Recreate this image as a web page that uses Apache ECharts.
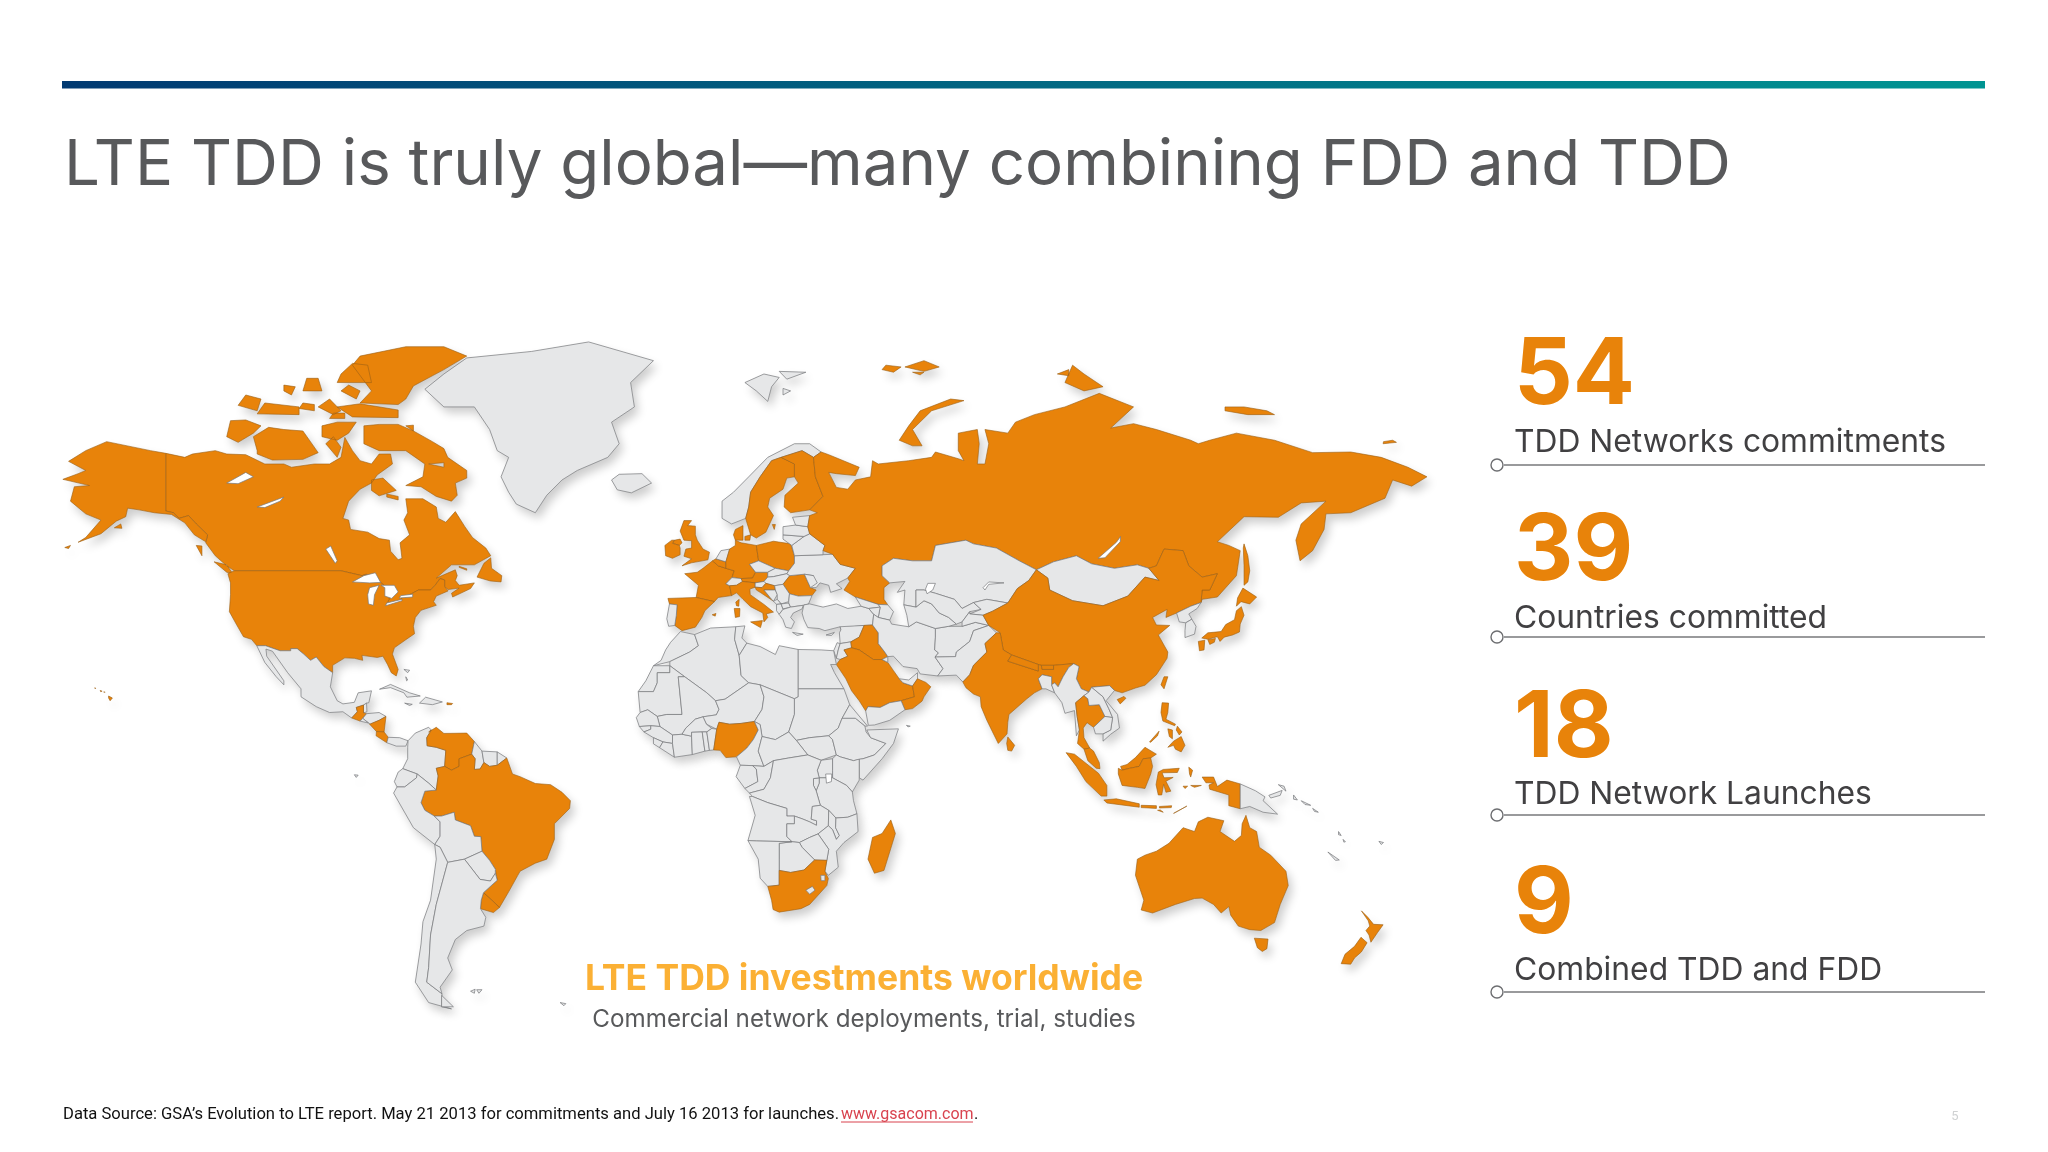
<!DOCTYPE html>
<html><head><meta charset="utf-8">
<style>html,body{margin:0;padding:0;background:#fff}#c{width:2048px;height:1152px}</style>
<script src="https://cdn.jsdelivr.net/npm/echarts@6/dist/echarts.min.js"></script>
</head><body><div id="c"></div>
<script>
const titleText = 'LTE TDD is truly global—many combining FDD and TDD';
const statValues = ['54','39','18','9'];
const statLabels = ['TDD Networks commitments','Countries committed','TDD Network Launches','Combined TDD and FDD'];
const captionTitle = 'LTE TDD investments worldwide';
const captionSub = 'Commercial network deployments, trial, studies';
const sourceText = 'Data Source: GSA’s Evolution to LTE report. May 21 2013 for commitments and July 16 2013 for launches.';
const sourceLink = 'www.gsacom.com';

// countries highlighted as committed
const committed = ['Canada','USA','Guatemala','Nicaragua','Costa Rica','Puerto Rico','Venezuela','Brazil','Uruguay','UK','Ireland','Spain','France','Germany','Belgium','Italy','Sweden','Finland','Denmark','Poland','Austria','Croatia','Romania','Russia','Saudi Arabia','Iraq','Oman','India','Nepal','Bhutan','China','Sri Lanka','Thailand','Malaysia','Indonesia','Philippines','Japan','Australia','New Zealand','Madagascar','South Africa','Nigeria'];
const lakes = ['L1','L2','L3','L4','L5','L6','L7','L8','L9','L10','L11','L12'];

// outlines: lon lat pairs, rings separated by ;
const outlines = {
Greenland:'-73 78.2,-68 76,-60 76,-56 73,-54 70,-51 69,-53 66,-51 63.5,-49 61.5,-44 60,-41 63,-37 65.5,-33 67,-25 69,-22 71,-24 74,-18 76,-19 79,-13 81.5,-30 83.5,-45 82.5,-62 81.8,-68 80',
Iceland:'-24 65.5,-22 66.4,-16 66.5,-13.5 65,-18.8 63.4,-22.5 63.9',
Svalbard:'11 79,16 80,20 79.6,18 78.5,17 76.7,14 78;20 80.3,27 80.2,22 79.4;21 78.3,23 78,21 77.5',
Canada:'-141 69.6,-136 69,-134 69.5,-128 70,-125 69.5,-120 69.4,-115 68,-110 68,-108 67.5,-102 68,-98 68,-95 69,-94 71.9,-92 70,-90 68.5,-87 68,-85 69.5,-82 69.5,-81.5 68,-85.5 66.3,-87 65,-90 64,-93 62,-94.5 59,-93 58.7,-92.5 57,-88 56.5,-85 55.3,-82.3 55,-82 52.9,-80 51.2,-79 51.5,-79.5 54.5,-77 56,-78.5 58.7,-77.5 60,-78 62.4,-73.5 62.4,-70 61,-69.5 59,-67.5 58.3,-65 60.2,-62.5 57.5,-60.5 55.5,-57 53.5,-55.7 52,-60 50.2,-66 50.2,-70 47.5,-65 49.2,-64.5 48,-65 47,-64 46,-60 46.5,-61 45.3,-65.7 43.5,-66 44.3,-64 45.4,-66.9 45.1,-67.8 45.7,-67.8 47.1,-69 47.4,-70.3 46,-71.5 45,-74.7 45,-76.5 44.2,-79 43.4,-79.2 42.9,-83 42,-82.4 43,-82.5 45.3,-84.5 46.5,-88.4 48.3,-89.5 48,-95 49,-123 49,-125 50,-128 52,-130.5 54.5,-130 56,-133 58,-135 59.5,-137.5 59,-139 60,-141 60.3;-80 73.7,-76 72.8,-71 71.3,-68 70.3,-67 69,-62 67,-62 65.8,-65 65,-64.5 63,-66 62,-70 62.8,-74 64.4,-78 64.6,-73.5 66,-73 68,-78 70,-85 70,-89 71,-89 73.5,-85 73.7;-117 69.5,-113 68.6,-105 68.7,-101 69.7,-105 72.8,-110 73,-114 73.3,-118 72,-117 70;-125 72,-122 71.2,-118 72.5,-116 73.5,-120 74.3,-124 74.2;-90 76.5,-80 76.3,-78 77,-76 78.6,-68 80.5,-62 82,-68 83,-78 83,-90 82,-92 81,-87 78;-92 74.7,-80 74.6,-80 75.6,-90 76.4,-96 76;-87 65.5,-84 65.8,-80.5 63.8,-85 62.9,-87 63.8;-117 75.1,-106 75,-106 76,-115 76.5;-96 79,-87 79,-88 81,-92 81.2,-95 80;-100 72,-96 71.5,-93 72.5,-91 74,-96 74,-100 73.5;-122 76.2,-117 75.5,-116 77,-120 77.5;-105 78,-100 78,-101 79.5,-104 79.5;-59.3 47.7,-55.8 46.9,-53 46.7,-52.8 48,-55.5 49.5,-55.7 51.6,-57.5 50.5;-128.3 50.8,-125 48.7,-123.4 48.4,-125 50.2;-133 54,-131.5 53.9,-131.5 52;-99 71,-96 69,-95 70.5,-97 72;-64 49.9,-62 49.4,-62 49.1,-64 49.7;-101 76,-97 75,-95 75.5,-98 77;-106 75.8,-102 75.5,-102 76.3,-105 76.5;-95 78,-91 77,-90 78,-93 78.7;-110 78,-108 77.5,-107 78.5,-110 78.7;-78 73.5,-76 72.8,-76 73.6;-83 63.2,-80 62.8,-80 62.2,-83 62.7;-72 68,-68 67.5,-68 68.2;-98 74.5,-94 74.5,-94 75.2,-97 75.2',
USA:'-124.7 48.4,-123 49,-95 49,-89.5 48,-88.4 48.3,-84.5 46.5,-82.5 45.3,-82.4 43,-83 42,-79.2 42.9,-79 43.4,-76.5 44.2,-74.7 45,-71.5 45,-70.3 46,-69 47.4,-67.8 47.1,-67.8 45.7,-66.9 44.8,-70 43.7,-70.7 42.5,-70 41.7,-74 40.6,-75.5 39,-76 37,-75.7 35.3,-78 33.9,-81 32,-81.5 30.5,-80 26.8,-80.5 25.2,-81.8 26,-82.8 28,-84 30,-85.5 29.7,-89.5 30.2,-89.3 29,-91.5 29.5,-94 29.6,-97.2 27.8,-97.2 26,-99.5 27.5,-101.5 29.8,-103 29,-104.8 30.5,-106.5 31.8,-108.2 31.8,-108.2 31.3,-111 31.3,-114.8 32.5,-117.1 32.5,-118.5 34,-120.6 34.6,-122.5 37.5,-124.3 40.3,-124 44,-124 46.5;-141 69.6,-145 70,-156.5 71.3,-162 70,-166.5 68.4,-162 67,-164 66.5,-168 65.6,-161 64.6,-165 64.4,-166 62,-162 59.8,-158 58.7,-162 55.5,-164 54.6,-158 56.2,-154 58.5,-151.5 59.3,-151 60.8,-148 60.5,-144 60,-139.5 59.7,-136 58.2,-133.5 56,-130.5 54.7,-130 56,-133 58,-135 59.5,-137.5 59,-139 60,-141 60.3;-154.5 57.3,-152.5 57.2,-152.8 58;-156 20.2,-155 19.7,-155.6 19,-156 19.7;-157.3 21.2,-156.9 21.15,-157.1 21;-158.2 21.6,-157.7 21.4,-158.1 21.3;-159.7 22.2,-159.3 22.1,-159.5 21.9;-167.5 53.6,-166 54,-166.5 53.4',
Mexico:'-117.1 32.5,-114.8 32.5,-111 31.3,-108.2 31.3,-108.2 31.8,-106.5 31.8,-104.8 30.5,-103 29,-101.5 29.8,-99.5 27.5,-97.2 26,-97.8 22.5,-96 19,-94.5 18.2,-91.5 18.6,-90.5 21,-87 21.5,-87.7 18.5,-88.3 18.4,-89.1 17.9,-91 17.3,-90.7 16.2,-92.2 14.6,-94.5 16.2,-98 16,-101.5 17.5,-105.5 20,-105.5 22,-109 26,-113 31.2,-114.7 31.7,-114.5 30,-110 24,-110 23,-112 25,-115 28.5',
Belize:'-88.3 18.4,-88.2 16.2,-89.1 15.9,-89.1 17.9',
Guatemala:'-92.2 14.6,-90.7 16.2,-91 17.3,-89.1 17.9,-89.1 15.9,-88.3 15.7,-89.3 14.5,-90 13.8',
Honduras:'-89.3 14.5,-88.3 15.7,-85 16,-83.2 15,-85 14,-87.3 13',
'El Salvador':'-90 13.8,-89.3 14.5,-87.8 13.3',
Nicaragua:'-87.5 13,-85 14,-83.2 15,-83.7 11,-85.7 11.1',
'Costa Rica':'-85.7 11.1,-83.7 11,-82.6 9.6,-83 8.2,-85.8 10',
Panama:'-83 8.2,-82.6 9.6,-79.6 9.5,-77.4 8.7,-78 7.3,-80.5 7.3',
Cuba:'-84.9 21.9,-82 23.1,-77 21,-74.2 20.2,-77.7 19.9,-78.5 21,-82 22.3',
Hispaniola:'-74.4 18.4,-72.8 19.9,-68.4 18.7,-71 18',
'Puerto Rico':'-67.2 18.5,-65.7 18.3,-66 18,-67.2 18',
Jamaica:'-78.3 18.4,-76.3 18.1,-77 17.8',
Bahamas:'-78.5 26.8,-77 26.6,-77.5 26;-78 25,-77.5 24.2,-77.8 24',
Colombia:'-77.4 8.7,-75.5 10.7,-72 12.2,-71.3 11.5,-72.5 9.5,-72.4 7.4,-70 7,-67.5 6.2,-67.8 2,-70 1.5,-69.5 -0.5,-70 -4.2,-72 -2.4,-75 0,-78.8 1.4,-77.5 4,-77.5 7',
Venezuela:'-71.3 11.5,-72.5 9.5,-72.4 7.4,-70 7,-67.5 6.2,-67.8 2,-66 1,-64 2,-64 4,-60.7 5.2,-60 8.5,-62 10.7,-68 10.6,-70 12.2,-72 11',
Guyana:'-60.7 5.2,-59.8 4,-60 1.2,-58.5 1.3,-57.5 3,-58 6,-60 8.5',
Suriname:'-58 6,-57.5 3,-56 2,-54 2.3,-54 5.8',
'French Guiana':'-54 5.8,-54 2.3,-51.5 4.2',
Brazil:'-50 0,-51.5 4.2,-54 2.3,-56 2,-57.5 3,-58.5 1.3,-60 1.2,-59.8 4,-60.7 5.2,-64 4,-64 2,-66 1,-67.8 2,-70 1.5,-69.5 -0.5,-70 -4.2,-73 -4.5,-74 -7.5,-73 -9.5,-70.5 -11,-68.6 -11,-65.3 -10,-65 -12,-61 -13.5,-60 -16.2,-58.3 -16.3,-58 -20,-56 -22.3,-54.5 -24.5,-54 -27.2,-57.6 -30.2,-53.4 -33.7,-51 -30,-48.6 -26,-48 -25,-44 -23,-41 -22,-39 -17,-39 -13,-35 -9,-34.8 -7,-37 -4.8,-40 -2.8,-44 -2.5,-48 -0.7',
Uruguay:'-57.6 -30.2,-53.4 -33.7,-55 -34.9,-58.4 -34,-58.2 -32',
Ecuador:'-78.8 1.4,-75 0,-75.2 -1,-78.3 -3.4,-80.3 -3.4,-81 -2,-80 0.5;-91.5 -0.2,-90.5 -0.3,-91 -0.9',
Peru:'-80.3 -3.4,-78.3 -3.4,-75.2 -1,-75 0,-72 -2.4,-70 -4.2,-73 -4.5,-74 -7.5,-73 -9.5,-70.5 -11,-69 -12.5,-69 -16.2,-70.4 -18.3,-76 -14,-81.2 -5',
Bolivia:'-70.5 -11,-68.6 -11,-65.3 -10,-65 -12,-61 -13.5,-60 -16.2,-58.3 -16.3,-58 -20,-62.6 -22,-67 -22.8,-69 -19,-70.4 -18.3,-69 -16.2,-69 -12.5',
Paraguay:'-58 -20,-62.6 -22,-58.5 -27,-55.8 -27.4,-54.5 -25.5,-54.5 -24.5,-56 -22.3',
Chile:'-70.4 -18.3,-69 -19,-67 -22.8,-70 -33,-71.5 -40,-72 -47,-72.5 -50,-68.5 -52.3,-68.6 -54.8,-66 -55.2,-72 -54,-75.5 -50,-74 -42,-73.5 -37,-71.5 -32,-70 -22',
Argentina:'-62.6 -22,-67 -22.8,-70 -33,-71.5 -40,-72 -47,-72.5 -50,-68.5 -52.3,-69 -51,-65.8 -47.5,-67 -45,-65 -41,-62 -39,-57.5 -38,-57 -36,-58.4 -34,-58.2 -32,-57.6 -30.2,-54 -27.2,-54.5 -25.5,-55.8 -27.4,-58.5 -27;-68.6 -52.6,-65.5 -54.8,-68.6 -54.8',
Falklands:'-61 -51.8,-59.8 -51.4,-60 -52.2;-59.4 -51.5,-58 -51.5,-58.8 -52.2;-37.5 -54,-36 -54.2,-36.5 -54.6',
Norway:'7.5 58,11.2 59,12 61,12.5 63.5,15 66,18 68.5,20.5 69,26 70,29 69,31 69.8,28 71,24 71,17 69,12 66,8 63.5,5 62,5 59',
Sweden:'11.2 59,12.5 56,14 55.4,16.5 56.5,18.5 59.5,17 61,17.5 62.5,21 64,22 65.8,24 66,24 68,20.5 69,18 68.5,15 66,12.5 63.5,12 61;18.2 57.9,19 57.9,18.7 57',
Finland:'29 69,29.5 66,31.5 62.8,28 60.5,23 60,21.3 61,21.5 63,25 65,24 66,24 68,20.5 69,26 70',
Denmark:'8.5 57,10.5 57.7,10.5 55,8.5 55,8 56;11 55.7,12.5 56,12.3 55,11 55',
UK:'-5.5 50,-3 50.6,1.3 51.2,1.7 52.7,0 53.3,-1.5 55,-2 56,-2 57.6,-4 57.7,-3 58.6,-5 58.6,-6 56.7,-5 55,-3 54.9,-3 53.5,-4.5 53.3,-5 51.9,-3 51.4;-6 55.2,-5.5 54.5,-6.2 54,-8 54.4,-7.5 55',
Ireland:'-6 52.2,-6 53.5,-6.2 54,-8 54.4,-7.5 55,-8.2 55,-10 54,-9.8 52,-8 51.5',
France:'2.5 51,4 50,6 49.5,8.2 49,7.6 47.6,6 46.3,7 45.9,7.5 43.8,4 43.4,3 42.5,-1.8 43.4,-1.2 46,-4.8 48.4,-1.5 48.7,0 49.5;8.6 42.4,9.5 43,9.4 41.5,8.8 41.6',
Belgium:'2.5 51,3.4 51.4,5.9 50.8,6 49.5,4 50',
Netherlands:'3.4 51.4,4.7 53,7 53.3,6 50.8',
Germany:'6 50.8,7 53.3,8.5 54,8.5 55,10 54.5,14 54,14.6 51,12.2 50.3,13.8 48.7,13 47.5,10 47.4,7.6 47.6,8.2 49,6 49.5',
Switzerland:'7.6 47.6,10 47.4,10.4 46.8,8.8 46,7 45.9,6 46.3',
Austria:'10 47.4,13 47.5,13.8 48.7,17 48.7,17 47.7,16 46.8,13.7 46.5,10.4 46.8',
Italy:'7 45.9,8.8 46,10.4 46.8,13.7 46.5,13.7 45.6,12.3 45.2,12.4 44,16 41.9,18.5 40.2,16.6 39.8,17 39,16 38,15.7 40,12.5 41.4,10.5 43,8.8 44.4,7.5 43.8;12.5 38,15.6 38.3,15.1 36.7;8.2 41,9.7 41,9.6 39.2,8.5 39',
Spain:'-9.2 43.2,-1.8 43.4,3 42.5,0.5 40.5,-0.3 39,-2 36.8,-5.5 36,-7.4 37.2,-7 39.5,-6.8 41.8,-8.8 42;2.4 39.6,3.4 39.9,3.2 39.3',
Portugal:'-8.8 42,-6.8 41.8,-7 39.5,-7.4 37.2,-9 37,-9.5 38.7',
Poland:'14 54,18.5 54.8,23 54.3,24 52,24 50.5,22.5 49,19 49.5,14.6 51',
Czechia:'12.2 50.3,14.6 51,19 49.5,17 48.7,13.8 48.7',
Slovakia:'17 48.7,19 49.5,22.5 49,22 48.4,18.5 47.8,17 47.7',
Hungary:'16 46.8,17 47.7,18.5 47.8,22 48.4,22.8 48,21 46.2,18.8 45.9,16.5 46.4',
Romania:'21 46.2,22.8 48,26.6 48.3,28.2 45.5,29.7 45,28.6 43.8,25 43.7,22.7 44.2',
Slovenia:'13.7 46.5,16 46.8,16.5 46.4,15.5 45.5,13.7 45.6',
Croatia:'13.7 45.6,15.5 45.5,16.5 46.4,18.8 45.9,19 45,16 45,18 43,18.5 42.6,15 44.5,14 45',
Bosnia:'16 45,19 45,19.5 44,18.5 42.6,18 43',
Serbia:'18.8 45.9,21 46.2,22.7 44.2,22.5 42.5,20.5 42,19.5 43,19.5 44,19 45',
Montenegro:'18.5 42.6,19.5 43,20.5 42,19.3 41.9',
Albania:'19.3 41.9,20.5 42,21 40.8,20 39.7,19.3 40.5',
Macedonia:'20.5 42,22.5 42.2,23 41.3,21 40.9',
Bulgaria:'22.5 42.5,22.7 44.2,25 43.7,28.6 43.8,27.7 42,26.3 41.7,23 41.3,22.5 42.2',
Greece:'21 40.8,23 41.3,26.3 41.7,26 40.9,23.7 40,23 39,24 38,23.2 36.5,21.7 36.8,21 38.5,20 39.7;23.5 35.6,26.3 35.2,24.7 34.9',
Cyprus:'32.3 35,34.5 35.6,33.7 34.9',
Ukraine:'24 50.5,24 52,31.5 52.2,34 52.3,36 50.3,40 49.5,38 47.5,35 46.3,36.5 45.3,33.5 44.5,33 46,30.7 46.5,29.7 45.5,28.2 45.5,29 48,26.6 48.3,22.8 48,22 48.4,22.5 49',
Moldova:'26.6 48.3,29 48,30 46.5,28.2 45.5',
Belarus:'24 52,23.3 54,26.5 55.7,28 56.2,32 54,31.5 53,31.5 52.2',
Lithuania:'21 56,26.5 55.7,23.3 54,21 55.2',
Latvia:'21 56,21 57.5,24.3 57.8,27.5 57.5,28 56.2,26.5 55.7',
Estonia:'23.5 59.2,28 59.5,27.5 57.5,24.3 57.8',
Russia:'31 69.8,33 69.4,41 67.5,40 66.2,35 66.5,33 66.7,35 64.3,38 64,40 65.5,44 66,44.5 68.5,46 68,54 68.5,60 69,61 69.8,67 68.8,68.5 68.5,67 70,67 72.5,72 73,72.5 71,72 68,74 68,75 71,74 73,80 72.5,82 74,87 75,95 76,104 77.7,113 76,107 73.2,113 73.8,119 73,128 71.5,130 71,133 71.5,140 72.5,150 71.5,160 69.7,170 69.8,178 69,185 67.5,190 66,186 64.5,181 65.5,179 62.5,170 60,163.5 59.8,163 57,160 53,156.7 51,155.6 55,157 58,163.5 62,157 61.7,151 59.2,142 59.3,135 54.7,138 54,141 53,140 48,135 43.5,131 43,130.7 42.3,131 45,133 45,135 48.4,131 47.7,127.5 50,126 53,121 53.3,119 50,117 49.5,114 50.2,108 49.5,102 50.4,98 52,92 50.8,87.5 49.2,83 51,77 53.5,71 54.3,69 55,61 54,60 51,55 51,50 51.5,47 50,47 48,49 46.5,47.5 45.5,47.5 43,48.5 41.8,46 41.9,40 43.5,37 45,38.5 46.8,38 47.5,40 49.5,36 50.3,34 52.3,31.5 53,32 54,28 56.2,27.5 57.5,28 59.5,30 60,28 60.5,31.5 62.8,29.5 66,29 69;51.5 71.5,55 70.7,57.5 70.7,55 73,60 75.5,68.5 76.8,65 77,57 75.5,54 73.5;47 80.5,50 80.2,52 80.8,48 81;53 80.8,58 80.3,62 80.8,58 81.5;55 80.2,57 79.9,58 80.2;95 79,100 78,105 78.5,100 80,97 81;93 80,96 79.8,96 80.5;137 75.5,143 75,150 75,148 75.5,142 76,137 76;178.5 71,182 71.2,181 71.5,178.6 71.3;142 54.3,143 52,143.5 49,143 46.7,142 46,142 50,141.8 53.5',
Turkey:'26 40,26.5 41.8,28 42,31.5 41.3,35 42,38 41,41.5 41.5,43.5 41,44.8 39.7,44.5 37.3,42.3 37.2,38 36.8,36.2 36.2,36 36.9,32 36,30.5 36.5,27.5 36.7,26.5 38.5',
Georgia:'40 43.5,46 41.9,46.5 41.3,43.5 41,41.5 41.5',
Azerbaijan:'46 41.9,48.5 41.8,50 40.3,49 38.4,46 39,46.5 41.3',
Armenia:'43.5 41,46.5 41.3,46 39,44.8 39.7',
Syria:'36 36.9,36.2 36.2,35.8 35.5,36 33,38.8 33.4,41 34.5,42.3 37.2',
Israel:'35.2 33.2,36 33,35.5 31.5,35 29.5,34.3 31.3',
Jordan:'35.5 31.5,36 33,38.8 33.4,39 32,37 31.5,38 30,36 29.2,35 29.5',
Iraq:'38.8 33.4,41 34.5,42.3 37.2,44.5 37.3,46 35.5,46 33,47.7 31,48.5 29.9,47 29.2,44.7 29.2,41 31.5,39 32',
'Saudi Arabia':'36 29.2,38 30,37 31.5,39 32,41 31.5,44.7 29.2,47 29.2,48.5 28.5,50 26.5,51.5 24.5,52.5 23.5,55 22.7,55.5 20,52 19,49 18.5,46.5 17.3,43.3 17.5,42.7 16.4,41 19,39 21.5,37.5 24.5,35 28',
Kuwait:'47 29.2,48.5 29.9,48.5 28.5',
UAE:'51.5 24.5,54 24.2,56.3 26,56.3 24.5,55 22.7,52.5 23.5',
Oman:'55 22.7,56.3 24.5,58.5 23.6,59.8 22.5,58 20,57.5 18.9,55 17,53 16.7,52 19,55.5 20',
Yemen:'43.3 17.5,46.5 17.3,49 18.5,52 19,53 16.7,49 14,45 12.8,43.4 12.7,42.7 16.4;53.4 12.7,54.4 12.5,53.8 12.3',
Iran:'44.8 39.7,46 39,49 38.4,49.5 37.5,54 36.9,56 38,61 36.5,61 34.5,60.8 31.5,61.8 30.8,60.9 29.8,63 27,61.6 25.2,57 25.7,56.2 27,52.5 27.5,50 30,48.5 29.9,47.7 31,46 33,46 35.5,44.5 37.3',
Afghanistan:'61 36.5,64.5 37,68 37,71.5 37.9,75 37.2,71 36,70 33.5,66.5 31,66.3 29.9,60.9 29.8,61.8 30.8,60.8 31.5,61 34.5',
Pakistan:'60.9 29.8,66.3 29.9,66.5 31,70 33.5,71 36,75 37.2,77 35.5,74 33,74.5 31,71 27.8,70 25.5,68.2 23.7,66.5 25.4,61.6 25.2,63 27',
Kazakhstan:'47 50,50 51.5,55 51,60 51,61 54,69 55,71 54.3,77 53.5,83 51,87.5 49.2,85.5 47,82.5 45.3,80 42.2,74.5 43,71 42.3,68 41,66 43,61 44.3,58 45,55.9 45,55.9 41.3,52.7 41.8,53 45,51 44.5,53 46.8,49 46.5,47 48',
Turkmenistan:'52.7 41.8,55.9 41.3,58 42.7,60 42,62 40,64.5 39,66.5 37.5,64.5 37,61 36.5,56 38,54 36.9,53.5 39.5',
Uzbekistan:'55.9 45,58 45,61 44.3,66 43,68 41,71 42.3,73 40.8,70 40.3,68 38,66.5 37.5,64.5 39,62 40,60 42,58 42.7,55.9 41.3',
Kyrgyzstan:'71 42.3,74.5 43,80 42.2,76 40.4,73.5 39.5,70 39.8,73 40.8',
Tajikistan:'68 38,70 40.3,70 39.8,73.5 39.5,75 37.2,71.5 37.9,68 37',
Mongolia:'87.5 49.2,92 50.8,98 52,102 50.4,108 49.5,114 50.2,117 49.5,119.7 47,116 47.7,111.5 43.7,105 41.6,97 42.7,91 45,90.5 47.5',
China:'73.5 39.5,76 40.4,80 42.2,82.5 45.3,85.5 47,87.5 49.2,90.5 47.5,91 45,97 42.7,105 41.6,111.5 43.7,116 47.7,119.7 47,117 49.5,119 50,121 53.3,126 53,127.5 50,131 47.7,135 48.4,133 45,131 45,130.7 42.3,128 41.5,124.3 40,121.5 39,121.8 40.8,118 39,119 37.3,122.5 37.2,119.5 35,122 31,121.8 29.5,119 25.5,116 22.9,113.5 22.2,110 21,108 21.6,106.7 22.8,102 22.4,101.3 21.2,99.3 22,98 24.5,98.7 27.5,97.3 28.2,92 27.8,88.8 27.8,88 28,81 30.3,78.8 31.5,78 35.5,75 37.2;108.7 19.3,110.5 20.1,111 19.6,109.5 18.2;121 25,122 25,121 22,120.2 23',
India:'68.2 23.7,70 25.5,71 27.8,74.5 31,74 33,77 35.5,78 35.5,78.8 31.5,81 30.3,80 28.8,88 26.4,88 28,88.8 27.8,89 26.8,92 26.8,92 27.8,97.3 28.2,96 27.3,94.5 25,93.2 22.5,92.3 23.5,91.5 23,91.5 25,89 25.5,88 24.5,89 22,87 21,85 19.5,80.3 15.5,80 13.5,79.8 10.5,78 8.5,77.5 8,76 11,74.5 14,73 17.5,72.8 20,71 20.7,69 22.3',
Nepal:'80 28.8,81 30.3,88 28,88 26.4',
Bhutan:'89 26.8,88.8 27.8,92 27.8,92 26.8',
Bangladesh:'88 24.5,89 25.5,91.5 25,91.5 23,92.3 21,90 22,89 22',
'Sri Lanka':'80 9.7,81.8 7.5,81 6,80 6.2,79.7 8',
Myanmar:'92.3 21,91.5 23,92.3 23.5,93.2 22.5,94.5 25,96 27.3,97.3 28.2,98.7 27.5,98 24.5,99.3 22,101.3 21.2,100 20.3,97.8 18.5,98.2 15,98.8 11.5,98 10,97.5 16.5,95 15.8,94.2 18.5',
Thailand:'100 20.3,101 19.5,101.3 17.8,104 18,105.5 15,102.5 12.2,100.8 13.4,99.8 12,100 9.5,101.5 6.8,100 6.5,98.3 8,98.8 11.5,98.2 15,97.8 18.5',
Laos:'101.3 21.2,102 22.4,105 20,106.5 17,107.5 14.7,105.5 15,104 18,101.3 17.8,101 19.5,100 20.3',
Vietnam:'102 22.4,106.7 22.8,108 21.6,105.8 19,108.8 15.5,109.3 12,107 10.4,105 8.6,105 10.5,107 11.5,107.5 14.7,106.5 17,105 20',
Cambodia:'102.5 12.2,105.5 15,107.5 14.7,107 11.5,105 10.5,103 10.5',
Malaysia:'100 6.5,101.5 6.8,102.5 6,104 3,104.2 1.4,103.2 1.5,101 3.5;109.6 2,111.3 2.5,113.5 4.3,116 7,119 5.2,117.5 4.2,115.5 4,114.5 2,112 1.5,110 1',
Indonesia:'95.3 5.6,97.5 5.2,103.8 0.2,106 -3,106 -5.8,104.5 -5.8,100.5 -2,98 2;105.2 -6.8,108.5 -6.5,114.5 -7.8,114.5 -8.7,106 -7.6;109 1.5,110 1,112 1.5,114.5 2,115.5 4,117.5 4.2,118 2,117.5 0,116 -3.8,114 -3.5,110 -3,109 0;119.5 0.5,120.8 1.2,125 1.5,124.5 0.4,120.5 0.3,121 -1,123.4 -0.9,121.5 -1.9,122.8 -4.5,121.5 -4.8,120.9 -2.7,120.4 -5.5,119.5 -5.5,118.9 -2.8;115 -8.2,119 -8.3,119 -9,115 -8.8;119.8 -8.5,123 -8.3,122.9 -8.8,119.8 -8.9;123.5 -10.3,127 -8.4,125 -9.5;119.3 -9.5,120.8 -10,120 -9.4;127.5 1.8,128.5 1,128 -0.8,127.7 0;128 -3,130.8 -3,129 -3.5;126 -3.2,127.2 -3.2,126.5 -3.8;131 -0.8,134 -0.8,135 -3.3,137.5 -1.6,141 -2.6,141 -9.1,138 -8.3,138 -5.5,133 -4,132.8 -2.9,134 -2.3,132 -2.3',
PNG:'141 -2.6,145 -4.4,147.5 -6,147 -7,150.8 -10.5,147 -10,143.5 -8.5,141 -9.1;148.5 -5.6,152 -4.3,151.5 -5.6,149 -6.3;151 -2.8,153 -4.5,152.5 -3.2;155 -5.5,156 -6.8,155 -6.6',
Solomons:'157 -7,159.5 -8.2,158 -8;160 -9,161.5 -10,160.5 -9.8',
Vanuatu:'166.8 -15,167.5 -16,166.8 -15.8;168 -17,168.6 -17.6,168.2 -17.7',
'New Caledonia':'164 -20.2,167 -22.2,166 -22.3',
Fiji:'177.4 -17.5,178.6 -17.8,178 -18.3',
Philippines:'120.5 18.5,122.2 18.4,122 16,121.5 14.3,124 13,123.8 12.6,120.7 13.8,120.2 16;122 7,123.5 8.6,125.5 9.8,126.5 7.5,125.5 5.8,124 6.5,123.5 7.5;124.5 12.5,125.7 11,125 10.2,124.2 11.5;122 11.8,123.2 11.5,123.2 9.2,122.4 9.8;117.2 8.4,119.7 11.2,119.3 10,117.5 8.3',
Japan:'130.9 34.3,132.5 35.5,136 35.8,137.2 37.4,139.5 38.5,140 40.5,141.3 41.4,142 39.5,141 37.5,140.8 35.7,139 35,136.8 34.5,135.7 33.5,135 34.6,132.5 34;140 41.5,140.3 43.3,141.7 45.4,145.3 43.5,143.5 42,141.2 42.5;130 33.5,131.7 33.8,131.5 31.5,130.3 31.3;132.5 33.9,134.5 34.2,134.2 33.3,133 32.8',
'North Korea':'124.3 40,128 41.5,130.7 42.3,129.7 41,127.5 39.8,128.3 38.6,126.7 37.8,125 38',
'South Korea':'126.7 37.8,128.3 38.6,129.4 37,129 35.2,126.5 34.4,126.5 36',
Australia:'114 -22,113.5 -26,115.7 -32,115 -34.3,118 -35,124 -33,129 -31.6,131 -31.5,134 -33,136 -35,138 -33.5,138.5 -35.5,140.5 -38,143.5 -38.8,146.4 -39,150 -37.2,151.5 -33,153.6 -28.5,153 -25,149 -21,146 -19,145.3 -15,143.5 -14,142.5 -10.8,141.5 -13,141.3 -16,139.5 -17.5,135.7 -15,136.7 -12.2,132.5 -11.3,130 -12.5,129 -15,126 -14,122.3 -18,119 -20,116 -21;144.7 -40.7,148.3 -40.9,148 -43,146.8 -43.6,145.5 -42.8',
'New Zealand':'172.8 -34.5,174.5 -36,176 -37.6,178.5 -37.7,177 -39.5,175.3 -41.6,174.8 -40,174 -39,175 -38,174.6 -36.8;172.7 -40.5,174.3 -41.7,172.8 -43.7,171 -45,170 -46.3,167.5 -46.2,168.5 -44.2,171 -42.5',
Morocco:'-5.9 35.8,-2.2 35.1,-1.2 32.5,-3.5 31,-8.7 28.7,-13 27.7,-11 29,-9.8 31.5,-8.5 33.3',
'Western Sahara':'-13 27.7,-8.7 27.7,-8.7 26,-12 26,-12 23.5,-13 21.3,-17 21.3,-15 24',
Algeria:'-2.2 35.1,2 36.6,8.6 36.9,8.3 34,9.5 30.2,10 25.3,12 23.5,5.8 19.4,3.3 19,1 21,-4.8 25,-8.7 27.7,-8.7 28.7,-3.5 31,-1.2 32.5',
Tunisia:'8.6 36.9,11 37.1,10.2 34.3,11.5 33.1,9.5 30.2,8.3 34',
Libya:'11.5 33.1,15 32.3,19 30.4,20 32.5,25 31.6,25 20,24 19.5,15 23,12 23.5,10 25.3,9.5 30.2',
Egypt:'25 31.6,31 31.5,34.3 31.3,35 28,33.5 28,34.5 26,37 22,25 22',
Mauritania:'-17 21.3,-13 21.3,-12 23.5,-12 26,-8.7 26,-8.7 27.7,-4.8 25,-6.5 25,-5.5 15.5,-9.5 15.5,-12 15,-14.5 16.7,-16.5 16',
Mali:'-12 15,-9.5 15.5,-5.5 15.5,-6.5 25,-4.8 25,1 21,3.3 19,4.2 16.8,3.5 15.4,0 14.9,-2 14.3,-4.5 12,-5.5 10.4,-8 10.2,-11.3 12.4',
Niger:'5.8 19.4,12 23.5,15 23,16 20,15.5 16.8,13.5 13.7,10 13.2,7 13,4.2 13.5,3.6 11.7,0.9 13,0 14.9,3.5 15.4,4.2 16.8,3.3 19',
Chad:'15 23,24 19.5,24 15.5,22.5 11,19 9,15.5 9.8,15 12.9,13.5 13.7,15.5 16.8,16 20',
Sudan:'25 22,37 22,38.5 18,36.5 14.5,35.5 12,33 10,28 9.5,24.5 8.8,22.5 11,24 15.5,24 19.5,25 20',
'South Sudan':'24.5 8.8,28 9.5,33 10,34 9,35 5,31 3.6,27.5 5',
Eritrea:'36.5 14.5,38.5 18,43.2 12.5,42.5 12.5,40 14.5',
Ethiopia:'35.5 12,36.5 14.5,40 14.5,42.5 12.5,42.8 11,44 9.5,48 8,45 5,42 4,39.5 3.5,36 4.5,35 5,34 9,33 10',
Somalia:'43 11.5,51.3 11.8,50 8,47 4,42 -1.6,41 -1,41 3.9,42 4,45 5,48 8,44 9.5',
Kenya:'34 4,35 5,36 4.5,39.5 3.5,41 3.9,41 -1,41 -1.6,39.2 -4.7,37.7 -3,34 -1,34 1',
Uganda:'31 3.6,34 4,34 1,34 -1,30.5 -1,30 1',
Tanzania:'34 -1,37.7 -3,39.2 -4.7,39.5 -7,40.4 -10.4,38 -11.3,34.9 -11.5,33 -9.5,30.8 -8.2,29.7 -4.4,30.5 -2.4,30.5 -1',
Rwanda:'29 -1.2,30.5 -1,30.5 -2.4,29.7 -4.4,29 -3',
Senegal:'-17.5 14.7,-16.5 16,-14.5 16.7,-12 15,-11.3 12.4,-13.7 12.6,-16.7 12.4',
'Guinea-Bissau':'-16.7 12.4,-13.7 12.6,-13.7 11.7,-15.5 11',
Guinea:'-15.5 11,-13.7 11.7,-13.7 12.6,-11.3 12.4,-8 10.2,-8 8,-10.5 8.4,-13 9.5',
'Sierra Leone':'-13 9.5,-10.5 8.4,-11.4 6.9,-13 7.9',
Liberia:'-11.4 6.9,-10.5 8.4,-8 8,-7.5 4.4',
'Ivory Coast':'-8 8,-8 10.2,-5.5 10.4,-3 9.9,-2.8 5.1,-7.5 4.4',
Burkina:'-5.5 10.4,-4.5 12,-2 14.3,0 14.9,0.9 13,2.3 11.9,1 11,-0.2 11,-3 10.9,-3 9.9',
Ghana:'-3 10.9,-0.2 11,0.5 6,-2.8 5.1,-3 9.9',
Togo:'-0.2 11,1 11,1.7 6.2,0.5 6',
Benin:'1 11,2.3 11.9,3.6 11.7,2.8 6.3,1.7 6.2',
Nigeria:'2.8 6.3,3.6 11.7,4.2 13.5,7 13,10 13.2,13.5 13.7,14.5 11.5,13.2 9,11.5 6.8,8.8 4.5,6 4.3,4.5 6.2',
Cameroon:'8.8 4.5,11.5 6.8,13.2 9,14.5 11.5,13.5 13.7,15 12.9,15.5 9.8,14.5 6,16 2,13 2.2,9.8 2.3',
CAR:'14.5 6,15.5 9.8,19 9,22.5 11,24.5 8.8,27.5 5,22.5 4.2,18.5 3.5,16 2',
Gabon:'9.8 2.3,13 2.2,14 1.3,14.4 -2,11 -3.8,8.7 -0.7',
Congo:'13 2.2,16 2,18.5 3.5,17.7 -1,16 -4,12.2 -5,11 -3.8,14.4 -2,14 1.3',
DRC:'18.5 3.5,22.5 4.2,27.5 5,31 3.6,30 1,30.5 -1,29 -1.2,29 -3,29.7 -4.4,30.8 -8.2,28.7 -8.5,28.4 -11.8,29.8 -12.2,29.8 -13.4,28 -12.5,26 -11.7,24 -11,22 -11,22 -9,17 -7.5,13 -5.9,12.2 -5,16 -4,17.7 -1',
Angola:'12.2 -5.9,13 -5.9,17 -7.5,22 -9,22 -11,24 -11,24 -13,22 -13,22 -16.3,23.4 -17.6,14 -17.4,11.8 -17.3,13.7 -10.8',
Zambia:'24 -11,26 -11.7,28 -12.5,29.8 -13.4,29.8 -12.2,28.4 -11.8,28.7 -8.5,30.8 -8.2,33 -9.5,32.9 -13.5,30.2 -15.6,28 -16.5,25.3 -17.8,23.4 -17.6,22 -16.3,22 -13,24 -13',
Malawi:'33 -9.5,34.9 -11.5,34.8 -14,35.8 -16,35 -17,34 -14.5,32.9 -13.5',
Mozambique:'40.4 -10.4,40.7 -15,37 -17.8,35 -20,35.5 -24,32.9 -26,32 -25,32.5 -22.3,33 -19.5,30.2 -15.6,32.9 -13.5,34 -14.5,35 -17,35.8 -16,34.8 -14,34.9 -11.5,38 -11.3',
Zimbabwe:'25.3 -17.8,28 -16.5,30.2 -15.6,33 -19.5,32.5 -22.3,29.3 -22.2,26 -19',
Botswana:'20 -18,23.4 -17.6,25.3 -17.8,26 -19,29.3 -22.2,26.5 -24.7,23 -25.3,20 -24.8,20 -22',
Namibia:'11.8 -17.3,14 -17.4,23.4 -17.6,20 -18,20 -22,20 -28.4,17 -28.7,15 -26.7,14.5 -22',
'South Africa':'17 -28.7,20 -28.4,20 -24.8,23 -25.3,26.5 -24.7,29.3 -22.2,32.5 -22.3,32 -25,32.9 -26.8,32.5 -28.5,28 -33,25.7 -34,20 -34.8,18.4 -34.2,18 -32',
Lesotho:'27 -29.6,28.7 -28.7,29.4 -29.6,28 -30.6',
Swaziland:'30.9 -26,32 -26,32 -27.3,31 -27.3',
Madagascar:'49.3 -12,50.5 -15.5,47.5 -24.8,45 -25.5,43.3 -22,44.5 -16.5,47 -15.5',
L1:'-92 46.7,-89 48,-86 48.6,-84.6 46.6,-87.5 46.5',
L2:'-87.8 42,-86.5 41.7,-86.2 44,-85 46,-87.5 45.5,-88 44',
L3:'-84.5 46,-81 46,-80 44.6,-81.7 43.2,-83.5 43.7,-83.5 45.5',
L4:'-83.3 41.6,-79 42.7,-79 43,-83 42.2',
L5:'-79.7 43.3,-76.2 43.5,-76.2 44.1,-79.3 43.8',
L6:'-125 65,-120 66.7,-118 66,-122 64.9',
L7:'-117 61,-110 62.7,-111 62,-115 60.9',
L8:'-99 53.3,-96.5 50.5,-96 51,-97.7 53.9',
L9:'32.2 0,33.8 0,33.7 -2,32.4 -2.4',
L10:'103.7 51.5,105.5 51.6,109.5 54.7,109.6 55.7,108.5 54.6',
L11:'59 46.4,61 46.4,60.3 45,58.8 44.2,58.4 45.2',
L12:'73.5 45.5,75 46.7,79 46.5,79 46.3,75 46.2,74 45'
};

const KX = 3.81, X0 = 703, KY = 218.3, Y0 = 774;
const miller = lat => 1.25 * Math.log(Math.tan(Math.PI / 4 + 0.4 * lat * Math.PI / 180));
const millerInv = m => 2.5 * (Math.atan(Math.exp(0.8 * m)) - Math.PI / 4) * 180 / Math.PI;
const projection = {
  project: p => [X0 + KX * p[0], Y0 - KY * miller(p[1])],
  unproject: p => [(p[0] - X0) / KX, millerInv((Y0 - p[1]) / KY)]
};
const parseRing = r => {
  const pts = r.split(',').map(s => s.trim().split(' ').map(Number));
  pts.push(pts[0]);
  return [pts];
};
const features = Object.keys(outlines).map(name => ({
  type: 'Feature', properties: { name },
  geometry: { type: 'MultiPolygon', coordinates: outlines[name].split(';').map(parseRing) }
}));
echarts.registerMap('world', { type: 'FeatureCollection', features });
echarts.registerMap('worldShadow', { type: 'FeatureCollection', features: features.filter(f => !lakes.includes(f.properties.name)) });

const frame = [[-184.5, 85], [353, -85]];
const topPx = projection.project(frame[0])[1], botPx = projection.project(frame[1])[1];
const common = {
  type: 'map', projection, boundingCoords: frame, roam: false, silent: true, selectedMode: false,
  left: 0, top: topPx, width: 2048, height: botPx - topPx, label: { show: false }, emphasis: { disabled: true }
};
const LAND = '#e6e7e8', ORANGE = '#e8830a';
const regionData = Object.keys(outlines).map(name => {
  const on = committed.includes(name), lake = lakes.includes(name);
  return { name, value: on ? 1 : 0, itemStyle: {
    areaColor: lake ? '#ffffff' : on ? ORANGE : LAND,
    borderColor: on ? '#9c5f14' : '#77787b', borderWidth: on ? 0.6 : 0.7 } };
});

const ink = '#58595b', labelInk = '#414042';
const statBase = [399, 575, 752, 928], labelBase = [450.5, 626.5, 802.5, 978.5], ruleY = [465, 637, 815, 992];
// place text by its baseline
const txt = (text, x, base, size, weight, family, fill, align) => ({
  type: 'text', x, y: base - 0.75 * size,
  style: { text, fill, font: weight + ' ' + size + 'px ' + family, textAlign: align || 'left', verticalAlign: 'top' }
});
const gfx = [];
gfx.push({ type: 'rect', shape: { x: 62, y: 81, width: 1923, height: 7.5 }, style: {
  fill: new echarts.graphic.LinearGradient(0, 0, 1, 0, [{ offset: 0, color: '#023a72' }, { offset: 1, color: '#009492' }]) } });
gfx.push(txt(titleText, 64, 181.5, 63.6, 400, 'Inter', ink));
statValues.forEach((v, i) => {
  gfx.push(txt(v, 1514, statBase[i], 92, 700, 'Inter', ORANGE));
  gfx.push(txt(statLabels[i], 1514, labelBase[i], 31.8, 400, 'Inter', labelInk));
  gfx.push({ type: 'line', shape: { x1: 1504, y1: ruleY[i], x2: 1985, y2: ruleY[i] }, style: { stroke: '#77787b', lineWidth: 1.6 } });
  gfx.push({ type: 'circle', shape: { cx: 1497, cy: ruleY[i], r: 6 }, style: { fill: '#fff', stroke: '#6d6e71', lineWidth: 1.4 } });
});
gfx.push(txt(captionTitle, 864, 988, 35.5, 700, 'Inter', '#fbb034', 'center'));
gfx.push(txt(captionSub, 864, 1026, 24.2, 400, 'Inter', ink, 'center'));
gfx.push(txt(sourceText, 63, 1119, 16.6, 400, 'Roboto', '#111'));
gfx.push(txt(sourceLink, 841, 1119, 16, 400, 'Roboto', '#d9434f'));
gfx.push({ type: 'line', shape: { x1: 841, y1: 1122, x2: 973, y2: 1122 }, style: { stroke: '#d9434f', lineWidth: 1 } });
gfx.push(txt('.', 974, 1119, 16.5, 400, 'Roboto', '#111'));
gfx.push(txt('5', 1955, 1120, 13, 400, 'Roboto', '#d0d2d3', 'center'));

const chart = echarts.init(document.getElementById('c'), null, { renderer: 'canvas' });
chart.setOption({
  backgroundColor: '#ffffff', animation: false,
  graphic: gfx.map(g => Object.assign({ silent: true, z: 10 }, g)),
  series: [
    Object.assign({}, common, { name: 'shadow', map: 'worldShadow', z: 1, data: [],
      itemStyle: { areaColor: LAND, borderColor: LAND, borderWidth: 0, shadowColor: 'rgba(0,0,0,0.2)', shadowBlur: 10, shadowOffsetX: 4, shadowOffsetY: 6 } }),
    Object.assign({}, common, { name: 'TDD', map: 'world', z: 2, data: regionData,
      itemStyle: { areaColor: LAND, borderColor: '#77787b', borderWidth: 0.7 } })
  ]
});
</script></body></html>
